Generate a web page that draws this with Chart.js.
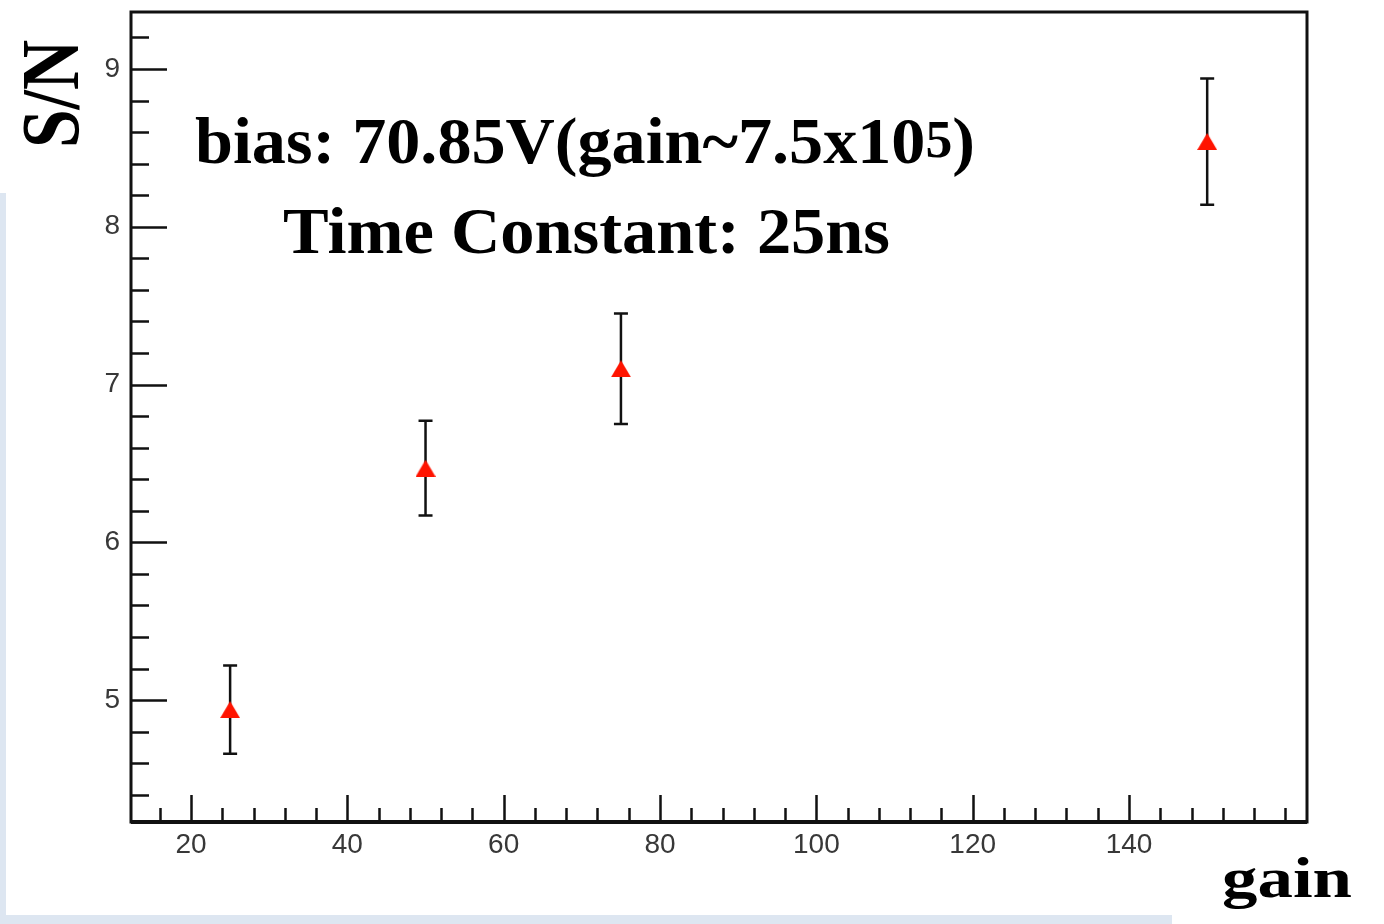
<!DOCTYPE html>
<html>
<head>
<meta charset="utf-8">
<script src="https://cdn.jsdelivr.net/npm/chart.js@4"></script>
<style>
html,body{margin:0;padding:0;background:#fff;}
#wrap{width:1384px;height:924px;position:relative;}
</style>
</head>
<body>
<div id="wrap"><canvas id="snChart"></canvas></div>
<script>
// values
const gainValues = [25, 50, 75, 150];
const snValues = [4.94, 6.47, 7.10, 8.54];
const snErrors = [0.28, 0.30, 0.35, 0.40];
const xTickLabels = [20, 40, 60, 80, 100, 120, 140];
const yTickLabels = [5, 6, 7, 8, 9];
const xMinorStep = 4;
const yMinorStep = 0.2;

// red triangle marker, centred on its box like ROOT does
const tri = document.createElement('canvas');
tri.width = 20; tri.height = 17;
let tctx = tri.getContext('2d');
tctx.fillStyle = '#ff1400';
tctx.beginPath();
tctx.moveTo(10, 0); tctx.lineTo(20, 17); tctx.lineTo(0, 17);
tctx.closePath(); tctx.fill();

const backdrop = {
    id: 'backdrop',
    beforeDraw(chart) {
        const c = chart.ctx;
        c.save();
        c.fillStyle = '#fff';
        c.fillRect(0, 0, chart.width, chart.height);
        c.fillStyle = '#dde6f1';
        c.fillRect(0, 193, 6, chart.height - 193);
        c.fillRect(0, 915, 1172, chart.height - 915);
        c.restore();
    }
};

const errorBars = {
    id: 'errorBars',
    beforeDatasetsDraw(chart) {
        const c = chart.ctx, xs = chart.scales.x, ys = chart.scales.y;
        c.save();
        c.strokeStyle = '#111';
        c.lineWidth = 2.5;
        gainValues.forEach((g, i) => {
            const px = xs.getPixelForValue(g);
            const top = ys.getPixelForValue(snValues[i] + snErrors[i]);
            const bot = ys.getPixelForValue(snValues[i] - snErrors[i]);
            c.beginPath();
            c.moveTo(px, top); c.lineTo(px, bot);
            c.moveTo(px - 7, top); c.lineTo(px + 7, top);
            c.moveTo(px - 7, bot); c.lineTo(px + 7, bot);
            c.stroke();
        });
        c.restore();
    }
};

const frameTicks = {
    id: 'frameTicks',
    afterDraw(chart) {
        const c = chart.ctx, a = chart.chartArea, xs = chart.scales.x, ys = chart.scales.y;
        c.save();
        c.strokeStyle = '#111';
        c.lineWidth = 2.5;
        c.beginPath();
        // y ticks (inside, left side only)
        for (let v = Math.ceil(ys.min / yMinorStep) * yMinorStep; v <= ys.max; v += yMinorStep) {
            const py = Math.round(ys.getPixelForValue(v)) + 0.5;
            const major = yTickLabels.some(t => Math.abs(t - v) < 1e-6);
            c.moveTo(a.left, py); c.lineTo(a.left + (major ? 36 : 18), py);
        }
        // x ticks (inside, bottom only)
        for (let v = Math.ceil(xs.min / xMinorStep) * xMinorStep; v <= xs.max; v += xMinorStep) {
            const px = Math.round(xs.getPixelForValue(v)) + 0.5;
            const major = xTickLabels.includes(v);
            c.moveTo(px, a.bottom); c.lineTo(px, a.bottom - (major ? 27 : 14));
        }
        c.stroke();
        c.lineWidth = 3;
        c.strokeRect(a.left, a.top, a.right - a.left, a.bottom - a.top);
        c.lineWidth = 4;
        c.beginPath();
        c.moveTo(a.left, a.bottom); c.lineTo(a.right, a.bottom);
        c.stroke();

        // titles and text
        const serif = '"Liberation Serif", "DejaVu Serif", serif';
        c.fillStyle = '#000';
        c.textBaseline = 'alphabetic';
        function fitText(parts, x0, x1, baseline) {
            let total = 0;
            parts.forEach(p => { c.font = 'bold ' + p.size + 'px ' + serif; p.w = c.measureText(p.t).width; total += p.w; });
            const sx = (x1 - x0) / total;
            c.save();
            c.translate(x0, baseline);
            c.scale(sx, 1);
            let x = 0;
            parts.forEach(p => {
                c.font = 'bold ' + p.size + 'px ' + serif;
                c.fillText(p.t, x, -(p.rise || 0));
                x += p.w;
            });
            c.restore();
        }
        fitText([{t: 'bias: 70.85V(gain~7.5x10', size: 66}, {t: '5', size: 52, rise: 6}, {t: ')', size: 66}], 195, 975, 163);
        fitText([{t: 'Time Constant: 25ns', size: 66}], 283, 890, 253);
        fitText([{t: 'gain', size: 56}], 1222, 1352, 897);

        c.save();
        c.translate(78, 148);
        c.rotate(-Math.PI / 2);
        c.font = 'bold 82px ' + serif;
        const w = c.measureText('S/N').width;
        c.scale(108 / w, 1);
        c.fillText('S/N', 0, 0);
        c.restore();
        c.restore();
    }
};

const ctx = document.getElementById('snChart');
new Chart(ctx, {
    type: 'scatter',
    data: {
        datasets: [{
            label: 'S/N',
            data: gainValues.map((g, i) => ({x: g, y: snValues[i]})),
            pointStyle: tri,
            pointRadius: 10,
            pointHoverRadius: 10
        }]
    },
    options: {
        responsive: true,
        maintainAspectRatio: false,
        animation: false,
        events: [],
        layout: {padding: {top: 12, right: 77, left: 0, bottom: 0}},
        plugins: {legend: {display: false}, tooltip: {enabled: false}},
        scales: {
            x: {
                type: 'linear',
                min: 12.32,
                max: 162.77,
                grid: {display: false, drawTicks: false},
                border: {display: false},
                afterBuildTicks: s => { s.ticks = xTickLabels.map(v => ({value: v})); },
                afterFit: s => { s.height = 102; s.paddingLeft = 0; s.paddingRight = 0; },
                ticks: {
                    padding: 6,
                    maxRotation: 0,
                    autoSkip: false,
                    color: '#383838',
                    font: {family: '"Liberation Sans", Arial, sans-serif', size: 28}
                }
            },
            y: {
                type: 'linear',
                min: 4.228,
                max: 9.361,
                grid: {display: false, drawTicks: false},
                border: {display: false},
                afterBuildTicks: s => { s.ticks = yTickLabels.map(v => ({value: v})); },
                afterFit: s => { s.width = 131; s.paddingTop = 0; s.paddingBottom = 0; },
                ticks: {
                    padding: 11,
                    autoSkip: false,
                    color: '#383838',
                    font: {family: '"Liberation Sans", Arial, sans-serif', size: 28}
                }
            }
        }
    },
    plugins: [backdrop, errorBars, frameTicks]
});
</script>
</body>
</html>
